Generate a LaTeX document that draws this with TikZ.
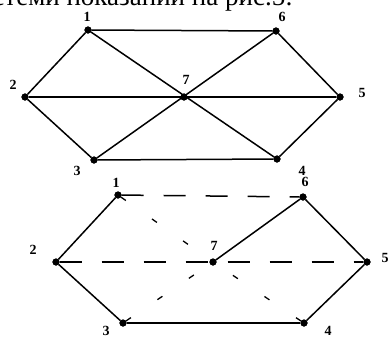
\documentclass[tikz,border=0pt]{standalone}
\usepackage{fontspec}
\setmainfont{Liberation Serif}
\begin{document}
\begin{tikzpicture}[x=1pt,y=-1pt,
	vertex/.style={ circle, draw, very thin, fill, inner sep=0pt, minimum size=7pt },
	num/.style={ font=\fontsize{14}{16}\selectfont\bfseries, inner sep=0pt },
	edge/.style={ line width=1.5pt },
	longdash/.style={ line width=1.5pt, dash pattern=on 22pt off 20pt },
	shortdash/.style={ line width=1.3pt, dash pattern=on 6pt off 32pt }
]
\useasboundingbox (0,0) rectangle (391,338);

\node[anchor=base east, font=\fontsize{27}{30}\selectfont, inner sep=0pt] (caption) at (293,5) {системи показаний на рис.5:};

% full graph
\node[vertex] at (88,30) (a1) {};
\node[vertex] at (25,97) (a2) {};
\node[vertex] at (94,160) (a3) {};
\node[vertex] at (277,159) (a4) {};
\node[vertex] at (340,97) (a5) {};
\node[vertex] at (276,31) (a6) {};
\node[vertex] at (184,97) (a7) {};
\node[num] at (87,17) (la1) {1};
\node[num] at (13,85) (la2) {2};
\node[num] at (77,171) (la3) {3};
\node[num] at (302,171) (la4) {4};
\node[num] at (362,93) (la5) {5};
\node[num] at (282,17) (la6) {6};
\node[num] at (186,80) (la7) {7};
\draw[edge] (a1) to (a6);
\draw[edge] (a6) to (a5);
\draw[edge] (a5) to (a4);
\draw[edge] (a4) to (a3);
\draw[edge] (a3) to (a2);
\draw[edge] (a2) to (a1);
\draw[edge] (a1) to (a4);
\draw[edge] (a6) to (a3);
\draw[edge] (a2) to (a5);

% spanning tree
\node[vertex] at (118,195) (b1) {};
\node[vertex] at (56,262) (b2) {};
\node[vertex] at (123,323) (b3) {};
\node[vertex] at (304,323) (b4) {};
\node[vertex] at (367,262) (b5) {};
\node[vertex] at (303,197) (b6) {};
\node[vertex] at (213,262) (b7) {};
\node[num] at (116,183) (lb1) {1};
\node[num] at (33,250) (lb2) {2};
\node[num] at (106,331) (lb3) {3};
\node[num] at (328,331) (lb4) {4};
\node[num] at (385,258) (lb5) {5};
\node[num] at (305,182) (lb6) {6};
\node[num] at (214,246) (lb7) {7};
\draw[edge] (b1) to (b2);
\draw[edge] (b2) to (b3);
\draw[edge] (b3) to (b4);
\draw[edge] (b4) to (b5);
\draw[edge] (b5) to (b6);
\draw[edge] (b6) to (b7);
\draw[longdash] (b1) to (b6);
\draw[longdash] (b2) to (b5);
\draw[shortdash] (b1) to (b7);
\draw[shortdash] (b4) to (b7);
\draw[shortdash] (b3) to (b7);

\end{tikzpicture}
\end{document}
